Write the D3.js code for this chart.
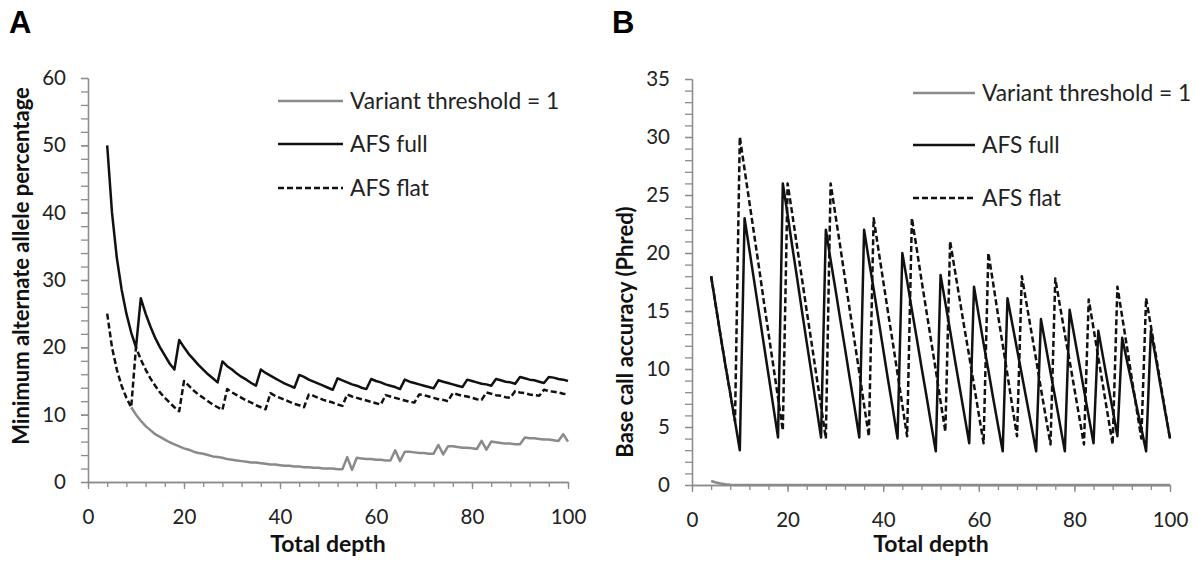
<!DOCTYPE html>
<html>
<head>
<meta charset="utf-8">
<script src="https://cdn.jsdelivr.net/npm/d3@7"></script>
<style>
	body { margin: 0; background: #fff; }
	.tick text { font-family: Lato, "Open Sans", sans-serif; font-size: 20.5px; fill: #222; }
	.axis path, .axis line { stroke: #8c8c8c; stroke-width: 1.3px; }
</style>
</head>
<body>
<div class="svg-container"></div>
<script>
// depth values 4..100 (one entry per depth)
var depth = d3.range(4, 101);

// Panel A: minimum alternate allele percentage
var thresholdA = [
	null, null, null, null, null, 11.1,
	10.0, 9.1, 8.3, 7.7, 7.1, 6.7, 6.3, 5.9, 5.6, 5.3,
	5.0, 4.8, 4.5, 4.3, 4.2, 4.0, 3.8, 3.7, 3.6, 3.4,
	3.3, 3.2, 3.1, 3.0, 2.9, 2.9, 2.8, 2.7, 2.6, 2.6,
	2.5, 2.4, 2.4, 2.3, 2.3, 2.2, 2.2, 2.1, 2.1, 2.0,
	2.0, 2.0, 1.9, 1.9, 3.7, 1.8, 3.6, 3.5, 3.4, 3.4,
	3.3, 3.3, 3.2, 3.2, 4.7, 3.1, 4.5, 4.5, 4.4, 4.3,
	4.3, 4.2, 4.2, 5.5, 4.1, 5.3, 5.3, 5.2, 5.1, 5.1,
	5.0, 4.9, 6.1, 4.8, 6.0, 5.9, 5.8, 5.7, 5.7, 5.6,
	5.6, 6.6, 6.5, 6.5, 6.4, 6.3, 6.3, 6.2, 6.1, 7.1,
	6.0
];
var fullA = [
	50.0, 40.0, 33.3, 28.6, 25.0, 22.2,
	20.0, 27.3, 25.0, 23.1, 21.4, 20.0, 18.8, 17.6, 16.7, 21.1,
	20.0, 19.0, 18.2, 17.4, 16.7, 16.0, 15.4, 14.8, 17.9, 17.2,
	16.7, 16.1, 15.6, 15.2, 14.7, 14.3, 16.7, 16.2, 15.8, 15.4,
	15.0, 14.6, 14.3, 14.0, 15.9, 15.6, 15.2, 14.9, 14.6, 14.3,
	14.0, 13.7, 15.4, 15.1, 14.8, 14.5, 14.3, 14.0, 13.8, 15.3,
	15.0, 14.8, 14.5, 14.3, 14.1, 13.8, 15.2, 14.9, 14.7, 14.5,
	14.3, 14.1, 13.9, 15.1, 14.9, 14.7, 14.5, 14.3, 14.1, 15.2,
	15.0, 14.8, 14.6, 14.5, 14.3, 15.3, 15.1, 14.9, 14.8, 14.6,
	15.6, 15.4, 15.2, 15.1, 14.9, 14.7, 15.6, 15.5, 15.3, 15.2,
	15.0
];
var flatA = [
	25.0, 20.0, 16.7, 14.3, 12.5, 11.1,
	20.0, 18.2, 16.7, 15.4, 14.3, 13.3, 12.5, 11.8, 11.1, 10.5,
	15.0, 14.3, 13.6, 13.0, 12.5, 12.0, 11.5, 11.1, 10.7, 13.8,
	13.3, 12.9, 12.5, 12.1, 11.8, 11.4, 11.1, 10.8, 13.2, 12.8,
	12.5, 12.2, 11.9, 11.6, 11.4, 11.1, 13.0, 12.8, 12.5, 12.2,
	12.0, 11.8, 11.5, 11.3, 13.0, 12.7, 12.5, 12.3, 12.1, 11.9,
	11.7, 11.5, 12.9, 12.7, 12.5, 12.3, 12.1, 11.9, 11.8, 13.0,
	12.9, 12.7, 12.5, 12.3, 12.2, 12.0, 13.2, 13.0, 12.8, 12.7,
	12.5, 12.3, 12.2, 13.3, 13.1, 12.9, 12.8, 12.6, 12.5, 13.5,
	13.3, 13.2, 13.0, 12.9, 12.8, 13.7, 13.5, 13.4, 13.3, 13.1,
	13.0
];

// Panel B: base call accuracy (Phred)
var thresholdB = [
	0.35, 0.22, 0.13, 0.07, 0.03, 0.01,
	0, 0, 0, 0, 0, 0, 0, 0, 0, 0,
	0, 0, 0, 0, 0, 0, 0, 0, 0, 0,
	0, 0, 0, 0, 0, 0, 0, 0, 0, 0,
	0, 0, 0, 0, 0, 0, 0, 0, 0, 0,
	0, 0, 0, 0, 0, 0, 0, 0, 0, 0,
	0, 0, 0, 0, 0, 0, 0, 0, 0, 0,
	0, 0, 0, 0, 0, 0, 0, 0, 0, 0,
	0, 0, 0, 0, 0, 0, 0, 0, 0, 0,
	0, 0, 0, 0, 0, 0, 0, 0, 0, 0,
	0
];
var fullB = [
	18.0, 15.4, 12.8, 10.3, 7.9, 5.5,
	3.0, 23.0, 20.3, 17.6, 14.9, 12.2, 9.5, 6.8, 4.1, 26.0,
	23.3, 20.5, 17.8, 15.0, 12.3, 9.6, 6.8, 4.1, 22.0, 19.4,
	16.9, 14.3, 11.8, 9.2, 6.7, 4.1, 22.0, 19.4, 16.9, 14.3,
	11.7, 9.1, 6.6, 4.0, 20.0, 17.6, 15.1, 12.7, 10.2, 7.8,
	5.3, 2.9, 18.1, 15.7, 13.3, 10.8, 8.4, 6.0, 3.6, 17.1,
	14.6, 12.2, 9.9, 7.5, 5.2, 2.9, 16.1, 13.9, 11.7, 9.5,
	7.3, 5.1, 2.9, 14.3, 12.0, 9.7, 7.5, 5.2, 2.9, 15.1,
	12.8, 10.5, 8.2, 5.9, 3.6, 13.3, 11.0, 8.7, 6.5, 4.2,
	12.7, 10.7, 8.8, 6.8, 4.9, 2.9, 13.3, 11.0, 8.6, 6.3,
	4.0
];
var flatB = [
	18.0, 15.4, 12.8, 10.3, 7.9, 5.5,
	30.0, 27.2, 24.4, 21.6, 18.8, 15.9, 13.1, 10.3, 7.5, 4.7,
	26.0, 23.3, 20.5, 17.8, 15.0, 12.3, 9.5, 6.8, 4.0, 26.0,
	23.3, 20.6, 17.8, 15.1, 12.4, 9.7, 6.9, 4.2, 23.0, 20.3,
	17.6, 14.9, 12.3, 9.6, 6.9, 4.2, 23.0, 20.4, 17.7, 15.1,
	12.5, 9.9, 7.2, 4.6, 21.0, 18.5, 16.0, 13.5, 11.1, 8.6,
	6.1, 3.6, 20.0, 17.4, 14.7, 12.1, 9.5, 6.8, 4.2, 18.0,
	15.6, 13.2, 10.8, 8.3, 5.9, 3.5, 17.8, 15.4, 13.0, 10.7,
	8.3, 5.9, 3.5, 16.0, 13.5, 11.0, 8.5, 6.0, 3.5, 17.1,
	14.5, 11.9, 9.2, 6.6, 4.0, 16.1, 13.7, 11.3, 8.8, 6.4,
	4.0
];

var xTicks = [0, 20, 40, 60, 80, 100];
var seriesNames = ["Variant threshold = 1", "AFS full", "AFS flat"];

(function () {

	"use strict";

	var gray = "#8a8a8a",
		black = "#111";

	var styles = [
		{ color: gray, dash: null },
		{ color: black, dash: null },
		{ color: black, dash: "6,3" }
	];

	var svg = d3.select(".svg-container").append("svg")
		.attr("width", 1198)
		.attr("height", 561);

	var panels = [
		{
			label: "A", labelX: 9,
			left: 88, right: 568, top: 78, bottom: 482,
			yMax: 60, yMajor: 10, yMinor: 2,
			title: "Minimum alternate allele percentage", titleX: 29, titleY: 266,
			series: [ thresholdA, fullA, flatA ],
			legendX: 278, legendW: 65, legendY: [ 101, 144, 188 ]
		},
		{
			label: "B", labelX: 612,
			left: 692, right: 1170, top: 79, bottom: 485,
			yMax: 35, yMajor: 5, yMinor: 1,
			title: "Base call accuracy (Phred)", titleX: 633, titleY: 332,
			series: [ thresholdB, fullB, flatB ],
			legendX: 913, legendW: 62, legendY: [ 93, 145, 198 ]
		}
	];

	panels.forEach(function (p) {

		var x = d3.scaleLinear().domain([0, 100]).range([p.left, p.right]);
		var y = d3.scaleLinear().domain([0, p.yMax]).range([p.bottom, p.top]);

		var g = svg.append("g");

		// minor ticks first
		g.append("g")
			.attr("class", "axis")
			.attr("transform", "translate(0," + p.bottom + ")")
			.call(d3.axisBottom(x).tickValues(d3.range(0, 101, 4)).tickSize(5).tickSizeOuter(0).tickFormat(""));

		g.append("g")
			.attr("class", "axis")
			.attr("transform", "translate(0," + p.bottom + ")")
			.call(d3.axisBottom(x).tickValues(xTicks).tickSize(7).tickSizeOuter(0).tickPadding(20).tickFormat(d3.format("d")));

		g.append("g")
			.attr("class", "axis")
			.attr("transform", "translate(" + p.left + ",0)")
			.call(d3.axisLeft(y).tickValues(d3.range(0, p.yMax + 0.01, p.yMinor)).tickSize(7).tickSizeOuter(0).tickFormat(""));

		g.append("g")
			.attr("class", "axis")
			.attr("transform", "translate(" + p.left + ",0)")
			.call(d3.axisLeft(y).tickValues(d3.range(0, p.yMax + 0.01, p.yMajor)).tickSize(7).tickSizeOuter(0).tickPadding(15).tickFormat(d3.format("d")));

		// series lines
		var line = d3.line()
			.defined(function (d) { return d[1] !== null; })
			.x(function (d) { return x(d[0]); })
			.y(function (d) { return y(d[1]); });

		p.series.forEach(function (values, i) {
			g.append("path")
				.datum(depth.map(function (dp, j) { return [ dp, values[j] ]; }))
				.attr("fill", "none")
				.attr("stroke", styles[i].color)
				.attr("stroke-width", 2.5)
				.attr("stroke-linejoin", "round")
				.attr("stroke-dasharray", styles[i].dash)
				.attr("d", line);
		});

		// legend
		seriesNames.forEach(function (name, i) {
			var ly = p.legendY[i];
			g.append("line")
				.attr("x1", p.legendX).attr("x2", p.legendX + p.legendW)
				.attr("y1", ly).attr("y2", ly)
				.attr("stroke", styles[i].color)
				.attr("stroke-width", 2.5)
				.attr("stroke-dasharray", styles[i].dash);
			g.append("text")
				.attr("x", p.legendX + p.legendW + 7)
				.attr("y", ly + 7.8)
				.style("font-family", "Lato, sans-serif")
				.style("font-size", "22.8px")
				.style("fill", "#222")
				.text(name);
		});

		// axis titles
		g.append("text")
			.attr("x", (p.left + p.right) / 2)
			.attr("y", 552)
			.attr("text-anchor", "middle")
			.style("font-family", "Lato, sans-serif")
			.style("font-weight", "bold")
			.style("font-size", "23px")
			.style("fill", "#111")
			.text("Total depth");

		g.append("text")
			.attr("transform", "translate(" + p.titleX + "," + p.titleY + ") rotate(-90)")
			.attr("text-anchor", "middle")
			.style("font-family", "Lato, sans-serif")
			.style("font-weight", "bold")
			.style("font-size", "22px")
			.style("fill", "#111")
			.text(p.title);

		// panel letter
		g.append("text")
			.attr("x", p.labelX)
			.attr("y", 33)
			.style("font-family", "'Liberation Sans', Arial, sans-serif")
			.style("font-weight", "bold")
			.style("font-size", "31px")
			.style("fill", "#000")
			.text(p.label);

	});

})();
</script>
</body>
</html>
